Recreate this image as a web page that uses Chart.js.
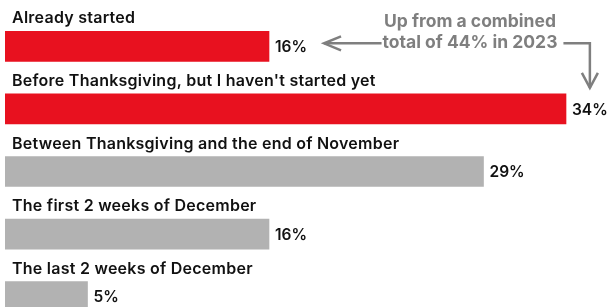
<!DOCTYPE html>
<html>
<head>
<meta charset="utf-8">
<script src="https://cdn.jsdelivr.net/npm/chart.js@4"></script>
<style>
  html, body { margin: 0; padding: 0; background: #fff; overflow: hidden; }
  #wrap { width: 611px; height: 307px; overflow: hidden; }
</style>
</head>
<body>
<div id="wrap"><canvas id="chart" width="611" height="330"></canvas></div>
<script>
"use strict";

// data
const categories = [
  "Already started",
  "Before Thanksgiving, but I haven't started yet",
  "Between Thanksgiving and the end of November",
  "The first 2 weeks of December",
  "The last 2 weeks of December",
];
const shares = [16, 34, 29, 16, 5];
const highlighted = [true, true, false, false, false];
const noteLines = ["Up from a combined", "total of 44% in 2023"];

const RED = "#e8111f";
const GREY = "#b2b2b2";
const NOTE = "#7f7f7f";
const FONT = "Inter, 'Noto Sans', sans-serif";

// labels above bars + value labels + the arrow note
const barLabels = {
  id: "barLabels",
  afterDatasetsDraw(chart) {
    const ctx = chart.ctx;
    const bars = chart.getDatasetMeta(0).data;
    ctx.save();
    ctx.fillStyle = "#111";
    bars.forEach((bar, i) => {
      const top = bar.y - bar.height / 2;
      ctx.font = "600 16px " + FONT;
      ctx.letterSpacing = "0.25px";
      ctx.textAlign = "left";
      ctx.textBaseline = "alphabetic";
      ctx.fillText(categories[i], bar.base + 7, top - 8);
      ctx.letterSpacing = "0px";
      ctx.font = "600 15.5px " + FONT;
      ctx.textBaseline = "middle";
      ctx.fillText(shares[i] + "%", bar.x + 6, bar.y + 1);
    });

    // note with arrows
    const b0 = bars[0], b1 = bars[1];
    ctx.font = "600 15.5px " + FONT;
    const lbl0End = b0.x + 6 + ctx.measureText(shares[0] + "%").width;
    const lbl1Mid = b1.x + 6 + ctx.measureText(shares[1] + "%").width / 2;

    ctx.font = "700 17.5px " + FONT;
    const textW = Math.max(...noteLines.map((t) => ctx.measureText(t).width));
    const cx = 470;
    ctx.fillStyle = NOTE;
    ctx.textAlign = "center";
    ctx.textBaseline = "alphabetic";
    ctx.fillText(noteLines[0], cx, 27);
    ctx.fillText(noteLines[1], cx, 48);

    const lineY = b0.y - 3;
    ctx.strokeStyle = NOTE;
    ctx.lineWidth = 2.5;
    ctx.lineJoin = "miter";
    ctx.lineCap = "butt";

    // left arrow
    const tipL = lbl0End + 17;
    ctx.beginPath();
    ctx.moveTo(cx - textW / 2 - 1, lineY);
    ctx.lineTo(tipL, lineY);
    ctx.stroke();
    ctx.beginPath();
    ctx.moveTo(tipL + 17, lineY - 7);
    ctx.lineTo(tipL, lineY);
    ctx.lineTo(tipL + 17, lineY + 7);
    ctx.stroke();

    // right elbow arrow
    const tipY = b1.y - b1.height / 2 - 6;
    ctx.beginPath();
    ctx.moveTo(cx + textW / 2 + 6, lineY);
    ctx.lineTo(lbl1Mid, lineY);
    ctx.lineTo(lbl1Mid, tipY);
    ctx.stroke();
    ctx.beginPath();
    ctx.moveTo(lbl1Mid - 8, tipY - 15);
    ctx.lineTo(lbl1Mid, tipY);
    ctx.lineTo(lbl1Mid + 8, tipY - 15);
    ctx.stroke();
    ctx.restore();
  },
};

new Chart(document.getElementById("chart"), {
  type: "bar",
  data: {
    labels: categories,
    datasets: [
      {
        data: shares,
        backgroundColor: highlighted.map((h) => (h ? RED : GREY)),
        borderWidth: 0,
        barThickness: 30,
      },
    ],
  },
  options: {
    indexAxis: "y",
    responsive: false,
    animation: false,
    layout: { padding: { left: 5, right: 12, top: 15, bottom: 2 } },
    scales: {
      x: { display: false, min: 0, max: 36 },
      y: { display: false },
    },
    plugins: {
      legend: { display: false },
      tooltip: { enabled: false },
    },
  },
  plugins: [barLabels],
});
</script>
</body>
</html>
